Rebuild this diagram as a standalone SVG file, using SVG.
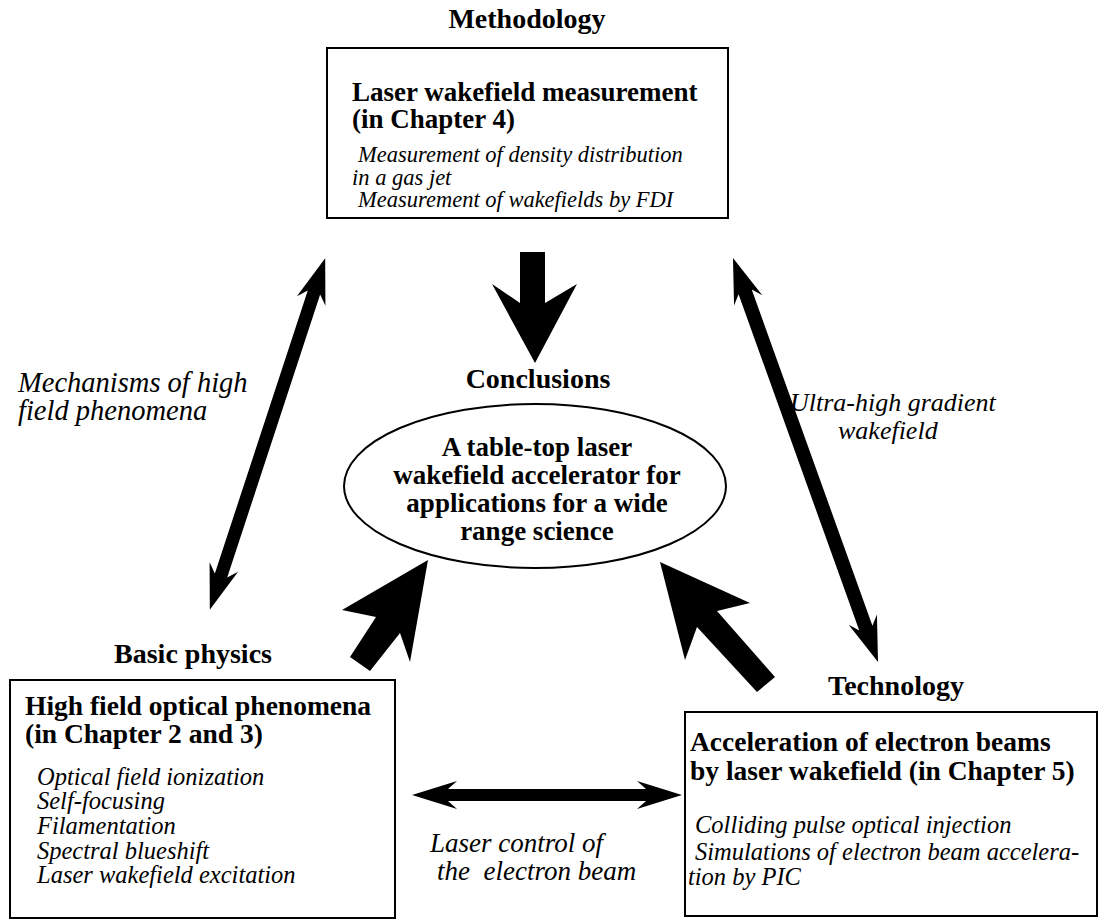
<svg xmlns="http://www.w3.org/2000/svg" width="1108" height="921" viewBox="0 0 1108 921">
<style>
.lbl{font-family:"Liberation Serif",serif;font-weight:bold;font-size:28px;text-anchor:middle;fill:#000}
.ttl{font-family:"Liberation Serif",serif;font-weight:bold;font-size:27.5px;fill:#000}
.ttl2{font-family:"Liberation Serif",serif;font-weight:bold;font-size:27px;fill:#000}
.ell{font-family:"Liberation Serif",serif;font-weight:bold;font-size:27px;text-anchor:middle;fill:#000}
.it{font-family:"Liberation Serif",serif;font-style:italic;font-size:24.5px;fill:#000}
.it2{font-family:"Liberation Serif",serif;font-style:italic;font-size:22.5px;fill:#000}
.cap{font-family:"Liberation Serif",serif;font-style:italic;font-size:27px;fill:#000}
.box{fill:#fff;stroke:#000;stroke-width:2}
.arr{fill:#000;stroke:none}
</style>
<rect width="1108" height="921" fill="#fff"/>
<g id="connectors">
<polygon class="arr" points="520,252 545,252 545,303 577,284 535,363 492,284 520,303"/>
<polygon class="arr" transform="translate(267.5,434) rotate(108.17)" points="-185,0 -140,-15 -149,-6.5 149,-6.5 140,-15 185,0 140,15 149,6.5 -149,6.5 -140,15"/>
<polygon class="arr" transform="translate(805.5,460) rotate(70.25)" points="-214.6,0 -169.6,-15 -178.6,-7 178.6,-7 169.6,-15 214.6,0 169.6,15 178.6,7 -178.6,7 -169.6,15"/>
<polygon class="arr" transform="translate(547,795)" points="-135,0 -90,-14 -99,-6 99,-6 90,-14 135,0 90,14 99,6 -99,6 -90,14"/>
<polygon class="arr" points="428,560 342,610 376,617 350,657 370,671 400,633 410,662"/>
<polygon class="arr" points="660,562 750,603 717,611 775,677 757,692 697,627 685,660"/>
</g>
<g id="methodology">
<text class="lbl" x="527" y="28">Methodology</text>
<rect class="box" x="327" y="48" width="401" height="170"/>
<text class="ttl2" x="352" y="101">Laser wakefield measurement</text>
<text class="ttl2" x="352" y="128">(in Chapter 4)</text>
<text class="it2" x="358" y="162">Measurement of density distribution</text>
<text class="it2" x="352" y="185">in a gas jet</text>
<text class="it2" x="358" y="207">Measurement of wakefields by FDI</text>
</g>
<g id="conclusions">
<text class="lbl" x="538" y="388">Conclusions</text>
<ellipse cx="535" cy="486" rx="191" ry="82" fill="#fff" stroke="#000" stroke-width="2"/>
<text class="ell" x="537" y="456">A table-top laser</text>
<text class="ell" x="537" y="484">wakefield accelerator for</text>
<text class="ell" x="537" y="512">applications for a wide</text>
<text class="ell" x="537" y="540">range science</text>
</g>
<g id="basic-physics">
<text class="lbl" x="193" y="663">Basic physics</text>
<rect class="box" x="10" y="680" width="385" height="238"/>
<text class="ttl" x="25" y="715">High field optical phenomena</text>
<text class="ttl" x="25" y="743">(in Chapter 2 and 3)</text>
<text class="it" x="37" y="785">Optical field ionization</text>
<text class="it" x="37" y="809">Self-focusing</text>
<text class="it" x="37" y="834">Filamentation</text>
<text class="it" x="37" y="859">Spectral blueshift</text>
<text class="it" x="37" y="883">Laser wakefield excitation</text>
</g>
<g id="technology">
<text class="lbl" x="896" y="695">Technology</text>
<rect class="box" x="685" y="712" width="412" height="204"/>
<text class="ttl" x="690" y="751">Acceleration of electron beams</text>
<text class="ttl" x="690" y="780">by laser wakefield (in Chapter 5)</text>
<text class="it" x="695" y="833">Colliding pulse optical injection</text>
<text class="it" x="695" y="860">Simulations of electron beam accelera-</text>
<text class="it" x="688" y="885">tion by PIC</text>
</g>
<g id="edge-labels">
<text class="cap" x="18" y="392" style="font-size:28.5px">Mechanisms of high</text>
<text class="cap" x="18" y="420" style="font-size:28.5px">field phenomena</text>
<text class="cap" x="790" y="411" style="font-size:26px">Ultra-high gradient</text>
<text class="cap" x="838" y="439" style="font-size:26px">wakefield</text>
<text class="cap" x="430" y="852">Laser control of</text>
<text class="cap" x="437" y="880" xml:space="preserve">the  electron beam</text>
</g>
</svg>
